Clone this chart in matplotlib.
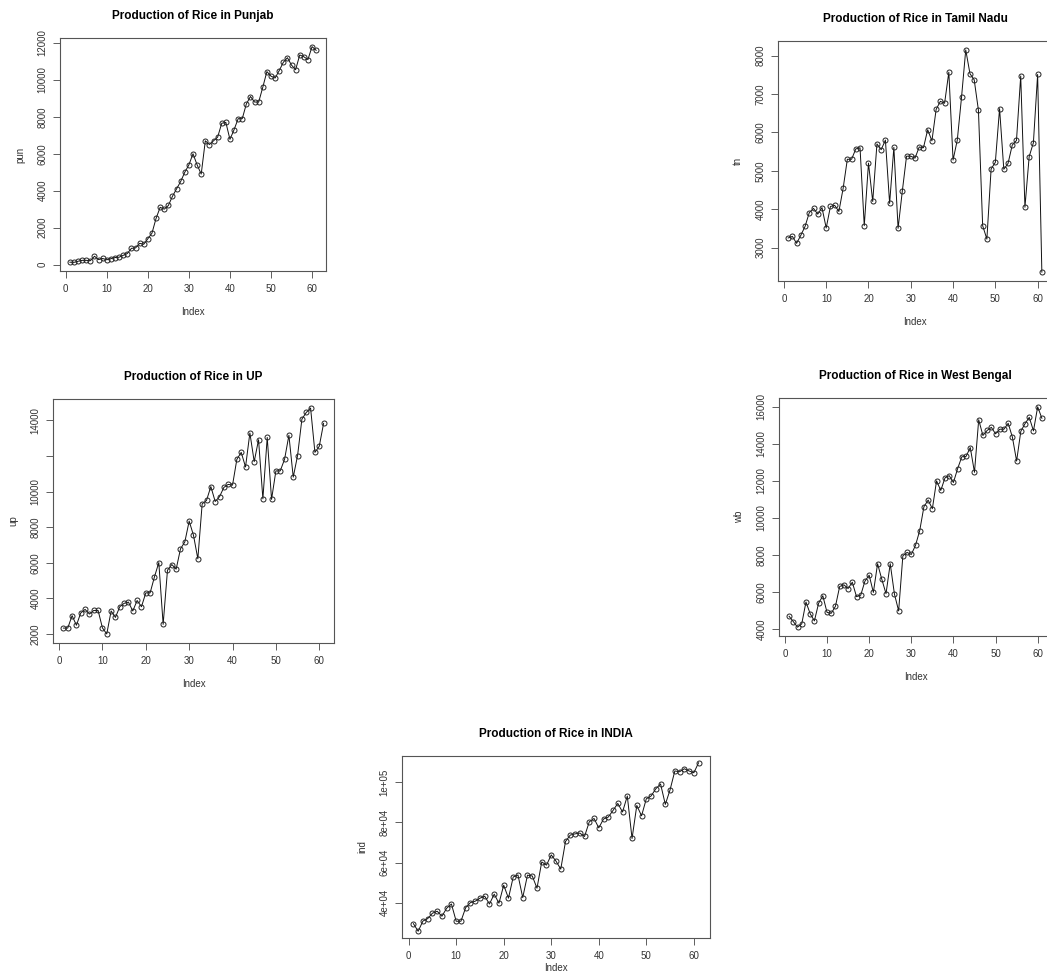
import numpy as np
import matplotlib.pyplot as plt

# Rice production series, 61 years each
pun = [130, 120, 180, 230, 230, 210, 450, 270, 330, 260,
       320, 380, 400, 500, 600, 880, 900, 1150, 1100, 1400,
       1700, 2500, 3100, 3000, 3200, 3700, 4100, 4500, 5000, 5400,
       6000, 5400, 4900, 6700, 6500, 6700, 6900, 7650, 7700, 6780,
       7300, 7900, 7900, 8700, 9100, 8800, 8800, 9600, 10450, 10200,
       10100, 10500, 10950, 11200, 10800, 10550, 11350, 11250, 11100, 11800,
       11600]
tn = [3250, 3290, 3110, 3320, 3550, 3910, 4020, 3870, 4040, 3510,
      4070, 4100, 3940, 4540, 5300, 5300, 5570, 5600, 3570, 5200,
      4200, 5700, 5550, 5800, 4150, 5610, 3500, 4470, 5380, 5380,
      5330, 5620, 5600, 6070, 5780, 6600, 6810, 6760, 7570, 5280,
      5800, 6910, 8150, 7530, 7370, 6580, 3570, 3220, 5050, 5220,
      6620, 5040, 5190, 5670, 5790, 7470, 4050, 5370, 5730, 7510,
      2360]
up = [2330, 2330, 3030, 2490, 3180, 3380, 3120, 3320, 3320, 2340,
      2000, 3290, 2930, 3530, 3720, 3790, 3290, 3880, 3530, 4310,
      4310, 5210, 6010, 2540, 5580, 5900, 5640, 6780, 7170, 8340,
      7540, 6220, 9310, 9500, 10280, 9440, 9710, 10230, 10400, 10360,
      11810, 12200, 11380, 13290, 11680, 12910, 9590, 13040, 9560, 11160,
      11160, 11810, 13160, 10810, 12020, 14070, 14440, 14690, 12200, 12540,
      13830]
wb = [4680, 4390, 4090, 4270, 5450, 4820, 4430, 5380, 5790, 4890,
      4840, 5220, 6290, 6380, 6180, 6520, 5740, 5820, 6580, 6900,
      5970, 7520, 6680, 5900, 7520, 5880, 4970, 7950, 8130, 8020,
      8510, 9310, 10600, 10960, 10490, 12000, 11480, 12160, 12280, 11910,
      12660, 13300, 13320, 13800, 12460, 15300, 14450, 14720, 14890, 14540,
      14790, 14790, 15110, 14360, 13070, 14680, 15090, 15430, 14700, 16000,
      15380]
ind = [29500, 25700, 30800, 32000, 34700, 35700, 33200, 37200, 39300, 30700,
       30700, 37500, 40000, 40700, 42200, 43200, 39300, 44200, 39700, 48700,
       42200, 52800, 53800, 42500, 53700, 53300, 47200, 60300, 58700, 63800,
       60700, 56700, 70500, 73700, 74300, 74700, 73000, 80300, 82000, 77300,
       81700, 82700, 86000, 89500, 85200, 93200, 72000, 88500, 83300, 91800,
       93200, 96800, 99200, 89000, 96300, 105700, 105300, 106800, 105700, 104800,
       109800]

W, H = 1047, 972
plt.rcParams['font.family'] = ['Liberation Sans', 'DejaVu Sans']

fig = plt.figure(figsize=(W / 100, H / 100), dpi=100)


def panel(box, data, title, ylab, yticks, ylabels=None, xpad=10):
    x0, y0, x1, y1 = box
    ax = fig.add_axes([x0 / W, 1 - y1 / H, (x1 - x0) / W, (y1 - y0) / H])
    idx = np.arange(1, len(data) + 1)
    ax.plot(idx, data, color='#111111', lw=0.7, marker='o', ms=3.6,
            mfc='none', mec='#222222', mew=0.7)
    ax.margins(0.04)
    ax.set_xticks(range(0, 61, 10))
    ax.set_yticks(yticks)
    if ylabels is not None:
        ax.set_yticklabels(ylabels)
    ax.tick_params(direction='out', length=5, width=0.6, colors='#444444',
                   labelsize=7, labelcolor='#333333', pad=4)
    for lab in ax.get_yticklabels():
        lab.set_rotation(90)
        lab.set_va('center')
    for s in ax.spines.values():
        s.set_color('#555555')
        s.set_linewidth(0.8)
    ax.set_title(title, fontsize=8.5, fontweight='bold', pad=14)
    ax.set_xlabel('Index', fontsize=7, color='#333333', labelpad=xpad)
    ax.set_ylabel(ylab, fontsize=7, color='#333333', labelpad=9)
    return ax


panel((60, 38, 326, 271), pun, 'Production of Rice in Punjab', 'pun',
      range(0, 12001, 2000))
panel((778, 41, 1052, 281), tn, 'Production of Rice in Tamil Nadu', 'tn',
      range(3000, 8001, 1000))
panel((53, 399, 334, 643), up, 'Production of Rice in UP', 'up',
      range(2000, 14001, 2000),
      ['2000', '4000', '6000', '8000', '10000', '', '14000'])
panel((779, 398, 1052, 636), wb, 'Production of Rice in West Bengal', 'wb',
      range(4000, 16001, 2000))
panel((402, 756, 710, 938), ind, 'Production of Rice in INDIA', 'ind',
      [40000, 60000, 80000, 100000], ['4e+04', '6e+04', '8e+04', '1e+05'],
      xpad=2)

fig.savefig('out.png', dpi=100)
